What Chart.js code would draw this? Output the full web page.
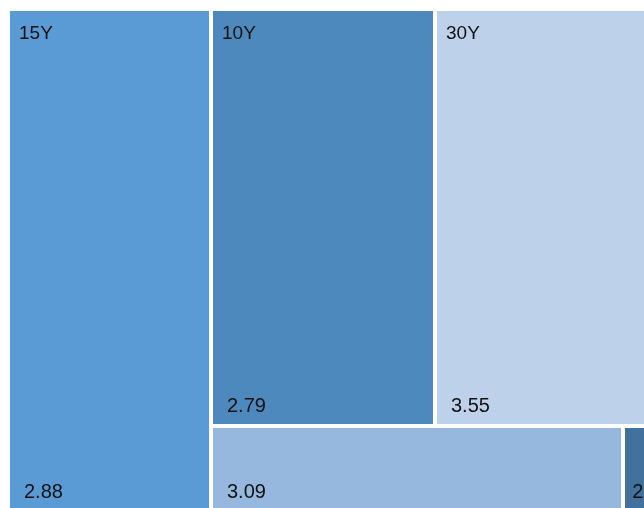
<!DOCTYPE html>
<html>
<head>
<meta charset="utf-8">
<script src="https://cdn.jsdelivr.net/npm/chart.js@4/dist/chart.umd.min.js"></script>
<style>
  html, body { margin: 0; padding: 0; background: #ffffff; }
  canvas { display: block; }
</style>
</head>
<body>
<canvas id="chart" width="644" height="508"></canvas>
<script>
// Tenor tiles: name, displayed yield and tile area weight
const tileNames = ['15Y', '10Y', '30Y', '', ''];
const tileValues = [2.88, 2.79, 3.55, 3.09, 2.61];
const tileSizes = [102109, 93408, 95076, 35432, 3440];

// Strip layout: first tile(s) fill a full-height column, the rest fill rows
const columnCount = 1;
const rowCounts = [2, 2];
const treemapHeight = 503;

const tileColors = ['#5a9bd6', '#4e89bd', '#bdd2ea', '#97b8de', '#43719e'];

function sum(arr) { return arr.reduce((a, b) => a + b, 0); }

function layoutTiles(sizes, height) {
  const rects = [];
  const colWidth = sum(sizes.slice(0, columnCount)) / height;
  let y = 0;
  for (let i = 0; i < columnCount; i++) {
    const h = sizes[i] / colWidth;
    rects.push({ x0: 0, x1: colWidth, y0: y, y1: y + h });
    y += h;
  }
  const restWidth = sum(sizes.slice(columnCount)) / height;
  let idx = columnCount;
  y = 0;
  for (const n of rowCounts) {
    const rowH = sum(sizes.slice(idx, idx + n)) / restWidth;
    let x = colWidth;
    for (let k = 0; k < n; k++, idx++) {
      const w = sizes[idx] / rowH;
      rects.push({ x0: x, x1: x + w, y0: y, y1: y + rowH });
      x += w;
    }
    y += rowH;
  }
  return rects;
}

// Rectangle element with an inner white border
class TileElement extends Chart.Element {
  static id = 'tile';
  static defaults = { backgroundColor: '#5b9bd5', borderColor: '#ffffff', borderWidth: 2 };
  draw(ctx) {
    const { x, y, width, height, options } = this;
    const b = options.borderWidth;
    ctx.save();
    ctx.fillStyle = options.borderColor;
    ctx.fillRect(x, y, width, height);
    ctx.fillStyle = options.backgroundColor;
    ctx.fillRect(x + b, y + b, width - 2 * b, height - 2 * b);
    ctx.restore();
  }
  inRange() { return false; }
  inXRange() { return false; }
  inYRange() { return false; }
  getCenterPoint() { return { x: this.x + this.width / 2, y: this.y + this.height / 2 }; }
  tooltipPosition() { return this.getCenterPoint(); }
}

// Controller mapping each {x0,x1,y0,y1} record through the x/y scales
class TileController extends Chart.DatasetController {
  static id = 'tile';
  static defaults = { dataElementType: 'tile', datasetElementType: false };
  static overrides = {
    scales: { x: { type: 'linear' }, y: { type: 'linear' } }
  };
  parseObjectData(meta, data, start, count) {
    const parsed = [];
    for (let i = 0; i < count; i++) {
      const r = data[start + i];
      parsed.push({ x: r.x1, y: r.y1, x0: r.x0, y0: r.y0 });
    }
    return parsed;
  }
  getMinMax(scale) {
    const ax = scale.axis;
    let min = Infinity, max = -Infinity;
    for (const p of this._cachedMeta._parsed) {
      min = Math.min(min, p[ax], p[ax + '0']);
      max = Math.max(max, p[ax], p[ax + '0']);
    }
    return { min, max };
  }
  getLabelAndValue(index) {
    return { label: tileNames[index], value: String(tileValues[index]) };
  }
  update(mode) {
    const meta = this._cachedMeta;
    this.updateElements(meta.data, 0, meta.data.length, mode);
  }
  updateElements(elements, start, count, mode) {
    const { xScale, yScale } = this._cachedMeta;
    for (let i = start; i < start + count; i++) {
      const p = this.getParsed(i);
      const left = xScale.getPixelForValue(p.x0);
      const right = xScale.getPixelForValue(p.x);
      const top = yScale.getPixelForValue(p.y0);
      const bottom = yScale.getPixelForValue(p.y);
      Object.assign(elements[i], {
        x: Math.min(left, right),
        y: Math.min(top, bottom),
        width: Math.abs(right - left),
        height: Math.abs(bottom - top),
        options: this.resolveDataElementOptions(i, mode)
      });
    }
  }
}

Chart.register(TileElement, TileController);

// Tile name at the top-left corner, value near the bottom-left corner
const tileLabels = {
  id: 'tileLabels',
  afterDatasetsDraw(chart) {
    const ctx = chart.ctx;
    const meta = chart.getDatasetMeta(0);
    ctx.save();
    ctx.fillStyle = '#111111';
    ctx.textBaseline = 'alphabetic';
    ctx.textAlign = 'left';
    meta.data.forEach((el, i) => {
      const b = el.options.borderWidth;
      const left = el.x + b;
      const top = el.y + b;
      const bottom = el.y + el.height - b;
      const w = el.width - 2 * b;
      if (tileNames[i]) {
        ctx.font = '19px "Liberation Sans", Arial, sans-serif';
        ctx.fillText(tileNames[i], left + 9, top + 28);
      }
      ctx.font = '20px "Liberation Sans", Arial, sans-serif';
      const inset = Math.min(14, w / 5);
      ctx.fillText(tileValues[i].toFixed(2), left + inset, bottom - 12);
    });
    ctx.restore();
  }
};

new Chart(document.getElementById('chart'), {
  type: 'tile',
  data: {
    datasets: [{
      label: 'Yield',
      data: layoutTiles(tileSizes, treemapHeight),
      backgroundColor: tileColors,
      borderColor: '#ffffff',
      borderWidth: 2,
      clip: 0
    }]
  },
  options: {
    responsive: false,
    animation: false,
    events: [],
    layout: { padding: { left: 8, top: 9, right: 0, bottom: 0 } },
    plugins: { legend: { display: false }, tooltip: { enabled: false } },
    scales: {
      x: { type: 'linear', display: false, bounds: 'data', min: 0, max: 636 },
      y: { type: 'linear', display: false, bounds: 'data', reverse: true, min: 0, max: 499 }
    }
  },
  plugins: [tileLabels]
});
</script>
</body>
</html>
